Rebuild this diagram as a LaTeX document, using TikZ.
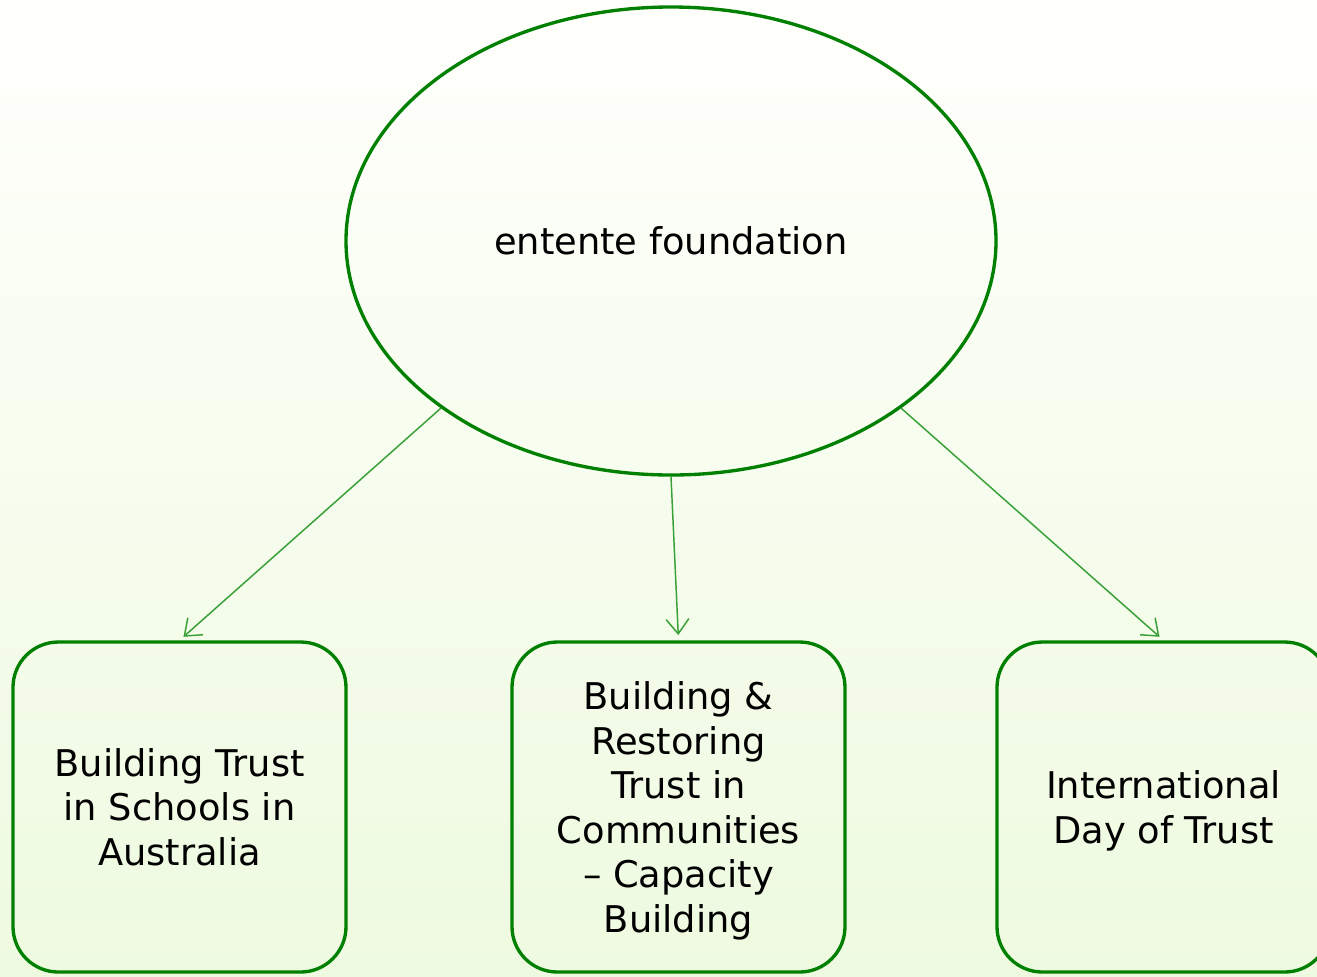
\documentclass[tikz,border=0pt]{standalone}
\usepackage{fontspec}
\setmainfont{DejaVu Sans}
\usetikzlibrary{arrows.meta}
\usetikzlibrary{shapes}

\definecolor{darkgrn}{RGB}{0,128,0}
\definecolor{linegrn}{RGB}{55,160,55}
\definecolor{bgtop}{RGB}{255,255,252}
\definecolor{bgbot}{RGB}{238,250,224}

\begin{document}
\begin{tikzpicture}[x = 0.75pt, y = -0.75pt]
\tikzstyle{TopStyle}=[shape = ellipse,
                      draw = darkgrn,
                      line width = 2.5pt,
                      minimum width = 487.5pt,
                      minimum height = 351pt,
                      font = \fontsize{27.6pt}{33.4pt}\selectfont]
\tikzstyle{BoxStyle}=[shape = rectangle,
                      rounded corners = 34pt,
                      draw = darkgrn,
                      line width = 2.5pt,
                      minimum width = 249.75pt,
                      minimum height = 247.5pt,
                      align = center,
                      text depth = -2pt,
                      font = \fontsize{27.6pt}{33.4pt}\selectfont]
\tikzstyle{EdgeStyle}=[draw = linegrn,
                       line width = 1.1pt,
                       -{Straight Barb[length = 11pt, width = 17pt]},
                       shorten > = 4pt]
\useasboundingbox (0, 0) rectangle (1317, 976);
\fill[top color = bgtop, bottom color = bgbot] (0, 0) rectangle (1317, 976);
\clip (0, 0) rectangle (1317, 976);
\node[TopStyle] (ent) at (671, 241) {entente foundation};
\node[BoxStyle] (sch) at (179.5, 807) {Building Trust\\in Schools in\\Australia};
\node[BoxStyle] (com) at (678.5, 807) {Building \&\\Restoring\\Trust in\\Communities\\– Capacity\\Building};
\node[BoxStyle] (day) at (1163.5, 807) {International\\Day of Trust};
\draw[EdgeStyle] (ent.216) -- (sch.north);
\draw[EdgeStyle] (ent.south) -- (com.north);
\draw[EdgeStyle] (ent.324) -- (day.north);
\end{tikzpicture}
\end{document}
